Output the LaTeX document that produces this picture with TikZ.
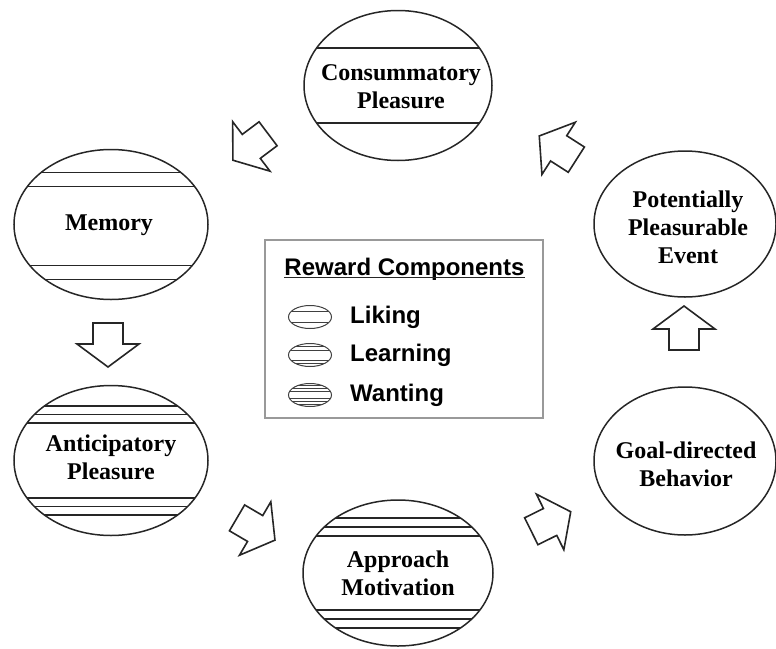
\documentclass[tikz,border=0pt]{standalone}
\usepackage{fontspec}
\setmainfont{Liberation Serif}
\newfontfamily\legfont{Liberation Sans}
\usetikzlibrary{shapes.geometric}
\newcommand\myhlines[5]{% node, rx, ry, offsets, style
  \begin{scope}
    \clip (#1.center) ellipse [x radius=#2pt, y radius=#3pt];
    \foreach \d in {#4} \draw[#5] ([xshift=-120pt,yshift=\d pt]#1.center) -- ++(240,0);
  \end{scope}}
\begin{document}
\begin{tikzpicture}[x=1pt,y=1pt,
  bigell/.style={ellipse, draw=black!85, line width=1.5pt, inner sep=0pt},
  smell/.style={ellipse, draw=black!75, line width=1pt, inner sep=0pt, minimum width=43pt, minimum height=23pt},
  lbl/.style={font=\bfseries\fontsize{24}{28}\selectfont, align=center, inner sep=0pt},
  leg/.style={font=\legfont\bfseries\fontsize{24}{28}\selectfont, inner sep=0pt},
  inline/.style={draw=black!85, line width=1.5pt},
  smline/.style={draw=black!75, line width=0.9pt},
  arrowline/.style={draw=black!85, line width=1.6pt, line join=miter, fill=white},
  blockarr/.pic={\path[arrowline] (-22,15) -- (-1,15) -- (-1,31) -- (22,0) -- (-1,-31) -- (-1,-15) -- (-22,-15) -- cycle;}
]
\useasboundingbox (0,0) rectangle (776,-648);

% big ellipses
\node[bigell, minimum width=188pt, minimum height=150pt] (cons) at (398,-85.5) {};
\node[bigell, minimum width=194pt, minimum height=150pt] (mem) at (111,-224.5) {};
\node[bigell, minimum width=194pt, minimum height=150pt] (anti) at (111,-460.5) {};
\node[bigell, minimum width=190pt, minimum height=146pt] (appr) at (398,-573) {};
\node[bigell, minimum width=182pt, minimum height=146pt] (pot) at (685,-224) {};
\node[bigell, minimum width=182pt, minimum height=148pt] (goal) at (685,-461) {};

% stripes
\myhlines{cons}{94}{75}{37.5,-37.5}{inline}
\myhlines{mem}{97}{75}{52,38,-41,-55}{inline}
\myhlines{anti}{97}{75}{54.5,46,37.5,-37.5,-46,-54.5}{inline}
\myhlines{appr}{95}{73}{55,46,37,-37,-46,-55}{inline}

% labels
\node[lbl] at (401,-86.5) {Consummatory\\Pleasure};
\node[lbl] at (109,-225) {Memory};
\node[lbl] at (111,-457.5) {Anticipatory\\Pleasure};
\node[lbl] at (398,-573) {Approach\\Motivation};
\node[lbl] at (688,-227) {Potentially\\Pleasurable\\Event};
\node[lbl] at (686,-464) {Goal-directed\\Behavior};

% legend
\node[draw=black!40, line width=1.2pt, minimum width=278pt, minimum height=178pt, inner sep=0pt] (legend) at (404,-329) {};
\node[leg] (title) at (404.5,-269) {Reward Components};
\draw[black!85, line width=1.4pt] ([yshift=-2pt]title.base west) -- ([yshift=-2pt]title.base east);

\node[smell] (ic1) at (310,-317) {};
\node[smell] (ic2) at (310,-355) {};
\node[smell] (ic3) at (310,-395) {};
\myhlines{ic1}{21.5}{11.5}{5.5,-5.5}{smline}
\myhlines{ic2}{21.5}{11.5}{8.5,5,-5,-8.5}{smline}
\myhlines{ic3}{21.5}{11.5}{9.3,6.5,3.5,-3.5,-6.5,-9.3}{smline}
\node[leg, anchor=west] (t1) at (350,-317) {Liking};
\node[leg, anchor=west] (t2) at (350,-355) {Learning};
\node[leg, anchor=west] (t3) at (350,-395) {Wanting};

% block arrows
\pic[rotate=217] at (250.5,-147) {blockarr};
\pic[rotate=147.4] at (557.8,-147.8) {blockarr};
\pic[rotate=270] at (108,-345) {blockarr};
\pic[rotate=-30.4] at (256,-529) {blockarr};
\pic[rotate=26.3] at (551,-521.5) {blockarr};
\pic[rotate=90] at (684,-328) {blockarr};
\end{tikzpicture}
\end{document}
